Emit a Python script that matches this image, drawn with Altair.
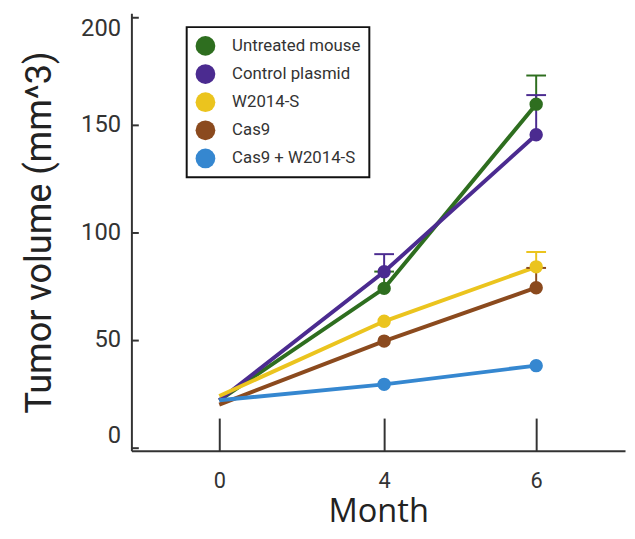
import altair as alt
import pandas as pd

groups = ["Untreated mouse", "Control plasmid", "W2014-S", "Cas9", "Cas9 + W2014-S"]
colors = ["#2e6e1f", "#4b2b90", "#ebc41e", "#8b4a1e", "#3587d0"]
months = [0, 4, 6]
untreated = [22, 74, 159.6]
control = [22, 81.7, 145.4]
w2014 = [24, 58.7, 84]
cas9 = [20, 49.5, 74.3]
combo = [22, 29.4, 38.1]
err_untreated = [0, 7.8, 13.3]
err_control = [0, 8.2, 18.4]
err_w2014 = [0, 0, 6.9]
err_cas9 = [0, 0, 9.2]
err_combo = [0, 0, 0]
y_ticks = [0, 50, 100, 150, 200]

series = [untreated, control, w2014, cas9, combo]
errs = [err_untreated, err_control, err_w2014, err_cas9, err_combo]
rows = []
for g, vals, es in zip(groups, series, errs):
    for m, v, e in zip(months, vals, es):
        rows.append({"group": g, "month": m, "volume": v, "err": e, "upper": v + e})
df = pd.DataFrame(rows)

font = "Roboto"
xscale = alt.Scale(domain=[-2.13, 0, 4, 6, 7.17], range=[0, 89, 256, 410, 500], nice=False, zero=False)
yscale = alt.Scale(domain=[-1.4, 201.8], nice=False, zero=False)

x_main = alt.Axis(values=months, orient="bottom", ticks=False, domain=True, domainColor="#333",
                  domainWidth=2, labelFont=font, labelFontSize=22, labelColor="#333",
                  labelPadding=20, labelAngle=0, title="Month", titleFont="Open Sans", titleFontSize=33,
                  titleFontWeight="normal", titleColor="#222", titlePadding=5, grid=False)
y_main = alt.Axis(values=y_ticks, orient="left", ticks=False, domain=True, domainColor="#333",
                  domainWidth=2, labelFont=font, labelFontSize=24, labelColor="#333",
                  labelPadding=11,
                  labelBaseline={"condition": [{"test": "datum.value == 200", "value": "top"},
                                               {"test": "datum.value == 0", "value": "bottom"}],
                                 "value": "middle"},
                  title="Tumor volume (mm^3)", titleFont=font,
                  titleFontSize=36.5, titleFontWeight="normal", titleColor="#222", titlePadding=22,
                  grid=False)
x_ticks_ax = alt.Axis(values=months, orient="bottom", offset=-33, tickSize=33, tickWidth=2,
                      tickColor="#333", domain=False, labels=False, title=None, grid=False)
y_ticks_ax = alt.Axis(values=y_ticks, orient="left", offset=-7, tickSize=7, tickWidth=2,
                      tickColor="#333", domain=False, labels=False, title=None, grid=False)

base = alt.Chart(df)

lines = base.mark_line(strokeWidth=4).encode(
    x=alt.X("month:Q", scale=xscale, axis=x_main),
    y=alt.Y("volume:Q", scale=yscale, axis=y_main),
    stroke=alt.Stroke("group:N", scale=alt.Scale(domain=groups, range=colors), legend=None),
    detail="group:N",
)

bars = base.transform_filter(alt.datum.err > 0).mark_rule(strokeWidth=2).encode(
    x=alt.X("month:Q", scale=xscale, axis=x_ticks_ax),
    y=alt.Y("volume:Q", scale=yscale, axis=y_ticks_ax),
    y2="upper:Q",
    stroke=alt.Stroke("group:N", scale=alt.Scale(domain=groups, range=colors), legend=None),
)

caps = base.transform_filter(alt.datum.err > 0).mark_tick(
    orient="horizontal", size=20, thickness=2, opacity=1).encode(
    x=alt.X("month:Q", scale=xscale, axis=None),
    y=alt.Y("upper:Q", scale=yscale, axis=None),
    fill=alt.Fill("group:N", scale=alt.Scale(domain=groups, range=colors), legend=None),
)

points = base.transform_filter(alt.datum.month > 0).mark_circle(opacity=1).encode(
    x=alt.X("month:Q", scale=xscale, axis=None),
    y=alt.Y("volume:Q", scale=yscale, axis=None),
    color=alt.Color("group:N", scale=alt.Scale(domain=groups, range=colors), legend=alt.Legend(
        orient="none", legendX=56, legendY=14, title=None, symbolType="circle",
        symbolSize=400, symbolStrokeWidth=0, labelFont=font, labelFontSize=17,
        labelColor="#333", labelOffset=17, rowPadding=8.5, padding=9,
        strokeColor="#111", fillColor="white")),
)

chart = alt.layer(lines, bars, caps, points).resolve_axis(
    x="independent", y="independent").resolve_scale(stroke="independent", fill="independent").properties(
    width=500, height=443,
    autosize=alt.AutoSizeParams(type="none"),
    padding={"left": 125, "top": 2, "right": 2, "bottom": 78},
    background="white",
).configure_view(stroke=None).configure_legend(strokeWidth=2).configure_circle(size=185)

chart.save("out.html", embed_options={"renderer": "svg", "actions": False})
